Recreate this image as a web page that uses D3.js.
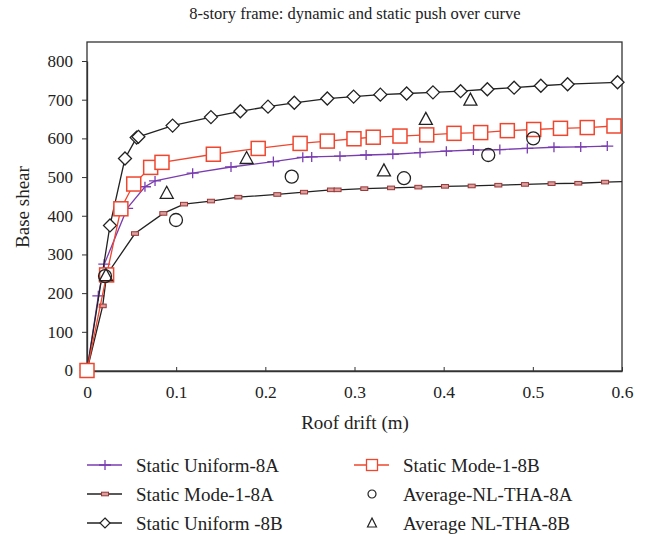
<!DOCTYPE html>
<html>
<head>
<meta charset="utf-8">
<script src="https://cdn.jsdelivr.net/npm/d3@7"></script>
<style>
  html, body { margin: 0; padding: 0; background: #fff; }
  svg text { font-family: "Liberation Serif", "DejaVu Serif", serif; fill: #222; }
</style>
</head>
<body>
<svg id="chart" width="649" height="534"></svg>
<script>
// Roof drift (m) and base shear for each pushover / time-history series
const uniform8A_x = [0, 0.0127, 0.0194, 0.045, 0.065, 0.0763, 0.1185, 0.1615, 0.209, 0.242, 0.252, 0.2837, 0.313, 0.343, 0.3735, 0.403, 0.4333, 0.463, 0.4938, 0.5237, 0.5537, 0.5835];
const uniform8A_y = [0, 193, 275, 419, 475, 490, 510, 526, 540, 551, 552, 554, 557, 559, 563, 567, 570, 571, 574, 577, 578, 580];

const mode8A_x = [0, 0.0176, 0.022, 0.0538, 0.0856, 0.1088, 0.139, 0.1697, 0.2134, 0.2434, 0.2736, 0.281, 0.311, 0.341, 0.3716, 0.4015, 0.4314, 0.4613, 0.4912, 0.521, 0.551, 0.581, 0.6];
const mode8A_y = [0, 167, 247, 354, 406, 430, 438, 448, 455, 461, 467, 467, 470, 472, 474, 476, 477, 479, 481, 483, 484, 487, 488];

const uniform8B_x = [0, 0.0258, 0.0426, 0.0557, 0.0576, 0.096, 0.139, 0.172, 0.203, 0.2325, 0.2695, 0.299, 0.329, 0.3585, 0.388, 0.419, 0.449, 0.479, 0.509, 0.539, 0.595];
const uniform8B_y = [0, 375, 548, 602, 604, 633, 655, 670, 682, 692, 703, 708, 713, 716, 719, 722, 727, 731, 736, 740, 745];

const mode8B_x = [0, 0.022, 0.038, 0.0524, 0.0714, 0.0841, 0.1417, 0.192, 0.239, 0.2695, 0.2994, 0.321, 0.351, 0.381, 0.4116, 0.4415, 0.4714, 0.501, 0.531, 0.561, 0.591];
const mode8B_y = [0, 247, 418, 482, 525, 538, 559, 574, 587, 593, 599, 603, 606, 609, 613, 615, 620, 623, 626, 628, 632];

const thaA_x = [0.0202, 0.0998, 0.2296, 0.3555, 0.45, 0.5005];
const thaA_y = [244, 389, 501, 497, 557, 600];

const thaB_x = [0.0213, 0.0894, 0.179, 0.333, 0.380, 0.43];
const thaB_y = [245, 458, 548, 516, 649, 699];

const xTicks = [0, 0.1, 0.2, 0.3, 0.4, 0.5, 0.6];
const yTicks = [0, 100, 200, 300, 400, 500, 600, 700, 800];

const legendLabels = ["Static Uniform-8A", "Static Mode-1-8A", "Static Uniform -8B",
                      "Static Mode-1-8B", "Average-NL-THA-8A", "Average NL-THA-8B"];

const svg = d3.select("#chart");
const m = { left: 87, right: 622, top: 42, bottom: 371 };

const x = d3.scaleLinear().domain([0, 0.6]).range([m.left, m.right]);
const y = d3.scaleLinear().domain([0, 800]).range([370.5, 61]);

const zip = (xs, ys) => xs.map((v, i) => [v, ys[i]]);

// frame
svg.append("rect")
  .attr("x", m.left).attr("y", m.top)
  .attr("width", m.right - m.left).attr("height", m.bottom - m.top)
  .attr("fill", "none").attr("stroke", "#333").attr("stroke-width", 1.3);

// axes
const xAxis = svg.append("g").attr("transform", `translate(0,${m.bottom})`)
  .call(d3.axisBottom(x).tickValues(xTicks).tickSizeInner(-4).tickSizeOuter(0).tickPadding(15)
    .tickFormat(d => d === 0 ? "0" : d3.format(".1f")(d)));
xAxis.select(".domain").attr("stroke", "#333").attr("stroke-width", 1.3);
xAxis.selectAll(".tick line").attr("stroke", "#333");
xAxis.selectAll("text").style("font-size", "17.5px").attr("fill", "#222").attr("font-family", null);

const yAxis = svg.append("g").attr("transform", `translate(${m.left},0)`)
  .call(d3.axisLeft(y).tickValues(yTicks).tickSizeInner(5).tickSizeOuter(0).tickPadding(9));
yAxis.select(".domain").attr("stroke", "#333").attr("stroke-width", 1.3);
yAxis.selectAll(".tick line").attr("stroke", "#333");
yAxis.selectAll("text").style("font-size", "17px").attr("fill", "#222").attr("font-family", null);

// titles
svg.append("text").attr("x", 355).attr("y", 19).attr("text-anchor", "middle")
  .style("font-size", "16.5px").text("8-story frame: dynamic and static push over curve");
svg.append("text").attr("x", 355).attr("y", 429).attr("text-anchor", "middle")
  .style("font-size", "19px").text("Roof drift (m)");
svg.append("text").attr("transform", "translate(29,207) rotate(-90)").attr("text-anchor", "middle")
  .style("font-size", "19px").text("Base shear");

const plot = svg.append("g");
const line = d3.line().x(d => x(d[0])).y(d => y(d[1]));

// marker drawers
const markers = {
  plus: (g, c) => g.append("path").attr("d", "M-6,0H6M0,-5V5").attr("stroke", c).attr("stroke-width", 1.3).attr("fill", "none"),
  bar: (g) => g.append("rect").attr("x", -3.5).attr("y", -1.8).attr("width", 7).attr("height", 3.6)
      .attr("fill", "#d9a0a0").attr("stroke", "#9b3535").attr("stroke-width", 1),
  diamond: (g) => g.append("path").attr("d", "M0,-6.5L6.5,0L0,6.5L-6.5,0Z")
      .attr("fill", "#fff").attr("stroke", "#222").attr("stroke-width", 1.3),
  square: (g, c) => g.append("rect").attr("x", -7).attr("y", -7).attr("width", 14).attr("height", 14)
      .attr("fill", "#fff").attr("stroke", c).attr("stroke-width", 1.5),
  circle: (g) => g.append("circle").attr("r", 6.5).attr("fill", "none").attr("stroke", "#222").attr("stroke-width", 1.3),
  triangle: (g) => g.append("path").attr("d", "M0,-7L6.5,5L-6.5,5Z").attr("fill", "none").attr("stroke", "#222").attr("stroke-width", 1.3)
};

const series = [
  { pts: zip(uniform8A_x, uniform8A_y), color: "#7a3db0", marker: "plus", line: true },
  { pts: zip(mode8A_x, mode8A_y), color: "#222", marker: "bar", line: true },
  { pts: zip(uniform8B_x, uniform8B_y), color: "#222", marker: "diamond", line: true },
  { pts: zip(mode8B_x, mode8B_y), color: "#f0462e", marker: "square", line: true },
  { pts: zip(thaA_x, thaA_y), color: "#222", marker: "circle", line: false },
  { pts: zip(thaB_x, thaB_y), color: "#222", marker: "triangle", line: false }
];

series.forEach(s => {
  if (s.line) {
    plot.append("path").datum(s.pts).attr("d", line)
      .attr("fill", "none").attr("stroke", s.color).attr("stroke-width", 1.3);
  }
  s.pts.forEach(p => {
    if (s.marker === "bar" && p[0] >= 0.6) return;
    const g = plot.append("g").attr("transform", `translate(${x(p[0])},${y(p[1])})`);
    markers[s.marker](g, s.color);
  });
});

// legend
const legendPos = [[105, 465], [105, 494], [105, 523], [372, 465], [372, 494], [372, 523]];
legendLabels.forEach((lab, i) => {
  const s = series[i];
  const [cx, cy] = legendPos[i];
  const g = svg.append("g").attr("transform", `translate(${cx},${cy})`);
  if (s.line) {
    g.append("line").attr("x1", -18).attr("x2", 17).attr("y1", 0).attr("y2", 0)
      .attr("stroke", s.color).attr("stroke-width", 1.3);
  }
  if (s.marker === "square") {
    g.append("rect").attr("x", -5.5).attr("y", -5.5).attr("width", 11).attr("height", 11)
      .attr("fill", "#fff").attr("stroke", s.color).attr("stroke-width", 1.3);
  } else if (s.marker === "diamond") {
    g.append("path").attr("d", "M0,-5L5,0L0,5L-5,0Z").attr("fill", "#fff").attr("stroke", "#222").attr("stroke-width", 1.2);
  } else if (s.marker === "circle") {
    g.append("circle").attr("r", 4).attr("fill", "none").attr("stroke", "#222").attr("stroke-width", 1.2);
  } else if (s.marker === "triangle") {
    g.append("path").attr("d", "M0,-5L4.5,4L-4.5,4Z").attr("fill", "none").attr("stroke", "#222").attr("stroke-width", 1.2);
  } else {
    markers[s.marker](g, s.color);
  }
  svg.append("text").attr("x", cx + 31).attr("y", cy + 6.5)
    .style("font-size", "19px").text(lab);
});
</script>
</body>
</html>
